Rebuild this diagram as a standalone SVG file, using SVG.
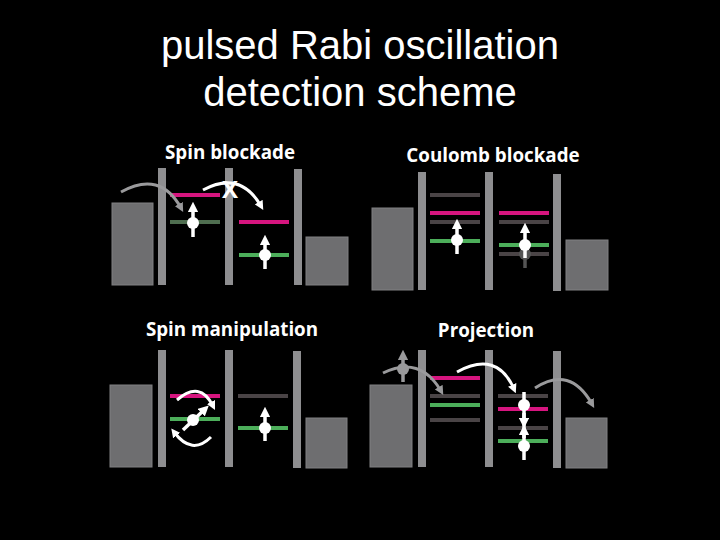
<svg xmlns="http://www.w3.org/2000/svg" width="720" height="540" viewBox="0 0 720 540">
<defs>
<style>
.t{font-family:"Liberation Sans",Arial,sans-serif;font-size:40px;fill:#fff;text-anchor:middle}
.h{font-family:"Open Sans","DejaVu Sans",sans-serif;font-weight:bold;font-size:18.8px;fill:#fff;text-anchor:middle}
.blk{fill:#6e6e70;stroke:#808082;stroke-width:1}
.bar{fill:#8e8e90}
.m{stroke:#d6157f;stroke-width:4}
.g{stroke:#4cae5a;stroke-width:4}
.gd{stroke:#4f6e50;stroke-width:4}
.d{stroke:#4a4446;stroke-width:4}
.dot{fill:#fff}
.sp{stroke:#fff;stroke-width:3.5;fill:none;marker-end:url(#wa)}
.cw{stroke:#fff;stroke-width:3;fill:none;marker-end:url(#wa)}
.cg{stroke:#9a9a9c;stroke-width:3;fill:none;marker-end:url(#ga)}
</style>
<marker id="wa" viewBox="0 0 10 10" refX="5" refY="5" markerWidth="3" markerHeight="3" orient="auto"><path d="M0,0L10,5L0,10z" fill="#fff"/></marker>
<marker id="ga" viewBox="0 0 10 10" refX="5" refY="5" markerWidth="3" markerHeight="3" orient="auto"><path d="M0,0L10,5L0,10z" fill="#9a9a9c"/></marker>
</defs>
<rect width="720" height="540" fill="#000"/>
<text class="t" x="360" y="59">pulsed Rabi oscillation</text>
<text class="t" x="360" y="106">detection scheme</text>

<g id="spin-blockade">
<text class="h" x="230" y="159">Spin blockade</text>
<rect class="blk" x="112" y="203" width="41" height="82"/>
<rect class="bar" x="158" y="168" width="8" height="117"/>
<rect class="bar" x="225" y="168" width="8" height="117"/>
<rect class="bar" x="294" y="169" width="8" height="116"/>
<rect class="blk" x="306" y="237" width="42" height="48"/>
<line class="m" x1="170" y1="195" x2="220" y2="195"/>
<line class="gd" x1="170" y1="222" x2="220" y2="222"/>
<line class="m" x1="239" y1="222" x2="289" y2="222"/>
<line class="g" x1="239" y1="255" x2="289" y2="255"/>
<line class="sp" x1="193" y1="237" x2="193" y2="207"/><circle class="dot" cx="193" cy="223" r="6"/>
<line class="sp" x1="265" y1="269" x2="265" y2="240"/><circle class="dot" cx="265" cy="255" r="6"/>
<path class="cg" d="M121,192 Q160,170 181,208"/>
<path class="cw" d="M203,190 Q240,170 261,206"/>
<text x="230" y="198" style="font-family:'Open Sans',sans-serif;font-weight:bold;font-size:24px;fill:#fff;text-anchor:middle">X</text>
</g>

<g id="coulomb-blockade">
<text class="h" x="493" y="162">Coulomb blockade</text>
<rect class="blk" x="372" y="208" width="41" height="82"/>
<rect class="bar" x="418" y="172" width="8" height="118"/>
<rect class="bar" x="485" y="172" width="8" height="118"/>
<rect class="bar" x="553" y="174" width="8" height="117"/>
<rect class="blk" x="566" y="240" width="42" height="50"/>
<line class="d" x1="430" y1="195" x2="480" y2="195"/>
<line class="m" x1="430" y1="213" x2="480" y2="213"/>
<line class="d" x1="430" y1="222" x2="480" y2="222"/>
<line class="g" x1="430" y1="241" x2="480" y2="241"/>
<line class="m" x1="499" y1="213" x2="549" y2="213"/>
<line class="d" x1="499" y1="222" x2="549" y2="222"/>
<line class="g" x1="499" y1="245" x2="549" y2="245"/>
<line class="d" x1="499" y1="254" x2="549" y2="254"/>
<line x1="525" y1="268" x2="525" y2="254" stroke="#555" stroke-width="3.5"/><circle cx="525" cy="254" r="6" fill="#555"/>
<line class="sp" x1="457" y1="254" x2="457" y2="224"/><circle class="dot" cx="457" cy="240" r="6"/>
<line class="sp" x1="525" y1="258" x2="525" y2="228"/><circle class="dot" cx="525" cy="245" r="6"/>
</g>

<g id="spin-manipulation">
<text class="h" x="232" y="336">Spin manipulation</text>
<rect class="blk" x="110" y="385" width="42" height="82"/>
<rect class="bar" x="158" y="350" width="8" height="117"/>
<rect class="bar" x="225" y="350" width="8" height="117"/>
<rect class="bar" x="293" y="351" width="8" height="117"/>
<rect class="blk" x="306" y="418" width="41" height="50"/>
<line class="m" x1="170" y1="396" x2="220" y2="396"/>
<line class="g" x1="170" y1="419" x2="220" y2="419"/>
<line class="d" x1="238" y1="396" x2="288" y2="396"/>
<line class="g" x1="238" y1="428" x2="288" y2="428"/>
<line class="sp" x1="183" y1="430" x2="205" y2="409"/><circle class="dot" cx="193" cy="420" r="6"/>
<path class="cw" d="M177,400 Q200,380 213,406"/>
<path class="cw" d="M211,437 Q192,456 174,432"/>
<line class="sp" x1="265" y1="441" x2="265" y2="412"/><circle class="dot" cx="265" cy="428" r="6"/>
</g>

<g id="projection">
<text class="h" x="486" y="337">Projection</text>
<rect class="blk" x="370" y="385" width="42" height="82"/>
<rect class="bar" x="418" y="350" width="8" height="117"/>
<rect class="bar" x="485" y="350" width="8" height="117"/>
<rect class="bar" x="553" y="351" width="8" height="117"/>
<rect class="blk" x="566" y="418" width="41" height="50"/>
<line class="m" x1="430" y1="378" x2="480" y2="378"/>
<line class="d" x1="430" y1="396" x2="480" y2="396"/>
<line class="g" x1="430" y1="405" x2="480" y2="405"/>
<line class="d" x1="430" y1="420" x2="480" y2="420"/>
<line class="d" x1="498" y1="396" x2="548" y2="396"/>
<line class="m" x1="498" y1="409" x2="548" y2="409"/>
<line class="d" x1="498" y1="428" x2="548" y2="428"/>
<line class="g" x1="498" y1="441" x2="548" y2="441"/>
<line stroke="#fff" stroke-width="3.5" x1="524" y1="392" x2="524" y2="460"/>
<line class="sp" x1="524" y1="413" x2="524" y2="423"/>
<line class="sp" x1="524" y1="438" x2="524" y2="430"/>
<circle class="dot" cx="524" cy="405" r="6"/><circle class="dot" cx="524" cy="446" r="6"/>
<line stroke="#9a9a9c" stroke-width="3.5" x1="403" y1="382" x2="403" y2="355" marker-end="url(#ga)"/>
<circle cx="403" cy="369" r="6" fill="#9a9a9c"/>
<path class="cg" d="M383,373 Q420,355 441,391"/>
<path class="cw" d="M457,372 Q497,350 514,389"/>
<path class="cg" d="M535,388 Q570,365 592,404"/>
</g>
</svg>
